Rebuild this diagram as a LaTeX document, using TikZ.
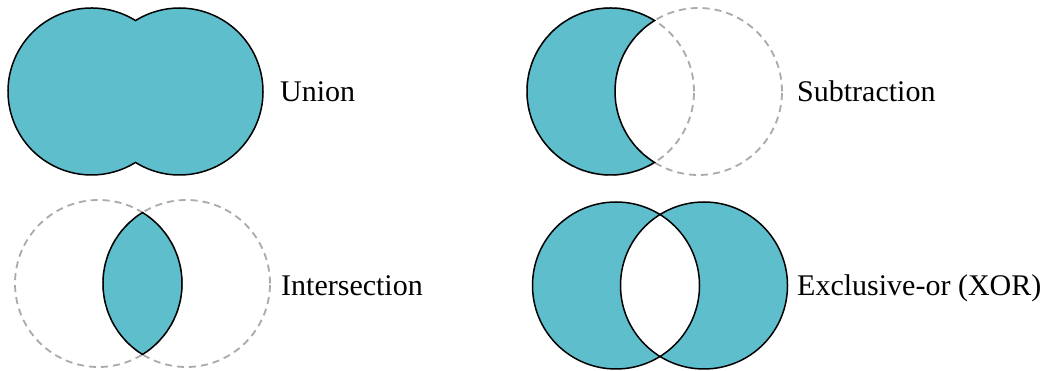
\documentclass[tikz,border=0pt]{standalone}
\usepackage{fontspec}
\setmainfont{Liberation Serif}
\definecolor{setfill}{RGB}{94,190,204}
\definecolor{ghostgray}{RGB}{170,170,170}

\begin{document}
\begin{tikzpicture}[x=1pt, y=1pt,
    solidset/.style={draw=black, line width=1.5pt, fill=setfill},
    ghostset/.style={draw=ghostgray, line width=1.8pt, dash pattern=on 7pt off 5pt},
    label/.style={anchor=base west, inner sep=0pt, font=\fontsize{30}{36}\selectfont}]

        \useasboundingbox (0,0) rectangle (1059,371);

        % Centres
        \coordinate (uL) at (91.5,279.5);
        \coordinate (uR) at (179.5,279.5);
        \coordinate (sL) at (610.5,279.5);
        \coordinate (sR) at (698.5,279.5);
        \coordinate (iL) at (98.5,87.5);
        \coordinate (iR) at (186.5,87.5);
        \coordinate (xL) at (616,85.5);
        \coordinate (xR) at (704,85.5);

        % Union
        \draw[solidset] (uL) ++(58.2:83.5pt)
            arc[start angle=58.2, end angle=301.8, radius=83.5pt]
            arc[start angle=238.2, end angle=481.8, radius=83.5pt] -- cycle;

        % Subtraction
        \draw[ghostset] (sL) circle[radius=83.5pt];
        \draw[ghostset] (sR) circle[radius=83.5pt];
        \draw[solidset] (sL) ++(58.2:83.5pt)
            arc[start angle=58.2, end angle=301.8, radius=83.5pt]
            arc[start angle=238.2, end angle=121.8, radius=83.5pt] -- cycle;

        % Intersection
        \draw[ghostset] (iL) circle[radius=83.5pt];
        \draw[ghostset] (iR) circle[radius=83.5pt];
        \draw[solidset] (iL) ++(58.2:83.5pt)
            arc[start angle=58.2, end angle=-58.2, radius=83.5pt]
            arc[start angle=238.2, end angle=121.8, radius=83.5pt] -- cycle;

        % Exclusive-or
        \draw[solidset, even odd rule] (xL) circle[radius=83.5pt] (xR) circle[radius=83.5pt];

        % Labels
        \node[label] (union) at (280,269) {Union};
        \node[label] (subtraction) at (797,269) {Subtraction};
        \node[label] (intersection) at (281,75) {Intersection};
        \node[label] (xor) at (797,75) {Exclusive-or (XOR)};

    \end{tikzpicture}
\end{document}
